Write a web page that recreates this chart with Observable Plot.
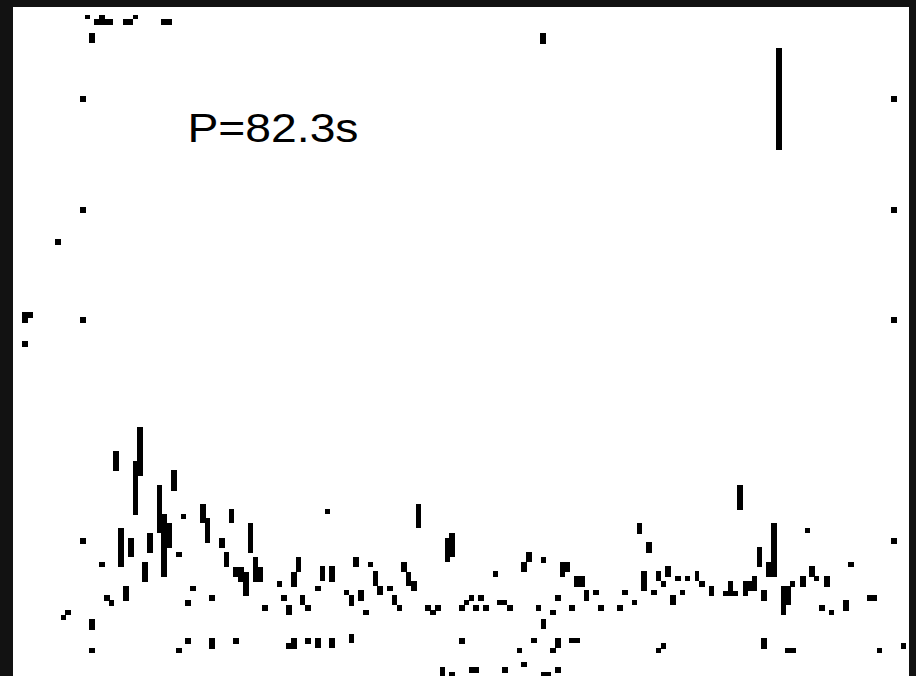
<!DOCTYPE html>
<html>
<head>
<meta charset="utf-8">
<script src="https://cdn.jsdelivr.net/npm/d3@7"></script>
<script src="https://cdn.jsdelivr.net/npm/@observablehq/plot@0.6"></script>
<style>
  html, body { margin: 0; padding: 0; background: #121212; }
  #chart { position: absolute; left: 13px; top: 7px; }
</style>
</head>
<body>
<div id="chart"></div>
<script>
// Power spectrum cells: [freq start, freq end (mHz), power low, power high]
const topCluster = [
  [0.72, 0.77, 65.7, 66.1], [0.81, 1.00, 65.1, 65.7], [0.86, 0.92, 65.7, 66.1],
  [1.10, 1.20, 65.1, 65.7], [1.20, 1.25, 65.7, 66.1], [1.48, 1.59, 65.1, 65.7],
  [0.76, 0.82, 63.3, 64.3], [5.27, 5.33, 63.2, 64.3]
];

const leftScatter = [
  [0.42, 0.48, 43.1, 43.7], [0.09, 0.20, 35.8, 36.4], [0.09, 0.15, 35.3, 35.8],
  [0.09, 0.15, 32.9, 33.5]
];

// Detected period marker
const periodLine = [[7.63, 7.69, 52.6, 62.8]];

const spectrum = [
  [1.24, 1.30, 20.0, 24.9], [1.20, 1.25, 16.1, 21.5], [1.00, 1.06, 20.5, 22.5],
  [1.58, 1.64, 18.5, 20.6], [1.44, 1.49, 14.3, 19.1], [1.48, 1.54, 9.9, 16.2],
  [1.53, 1.59, 12.8, 15.3], [1.68, 1.73, 15.7, 16.2], [1.87, 1.93, 15.3, 17.2],
  [1.92, 1.97, 13.3, 15.8], [2.16, 2.21, 15.3, 16.7], [2.35, 2.40, 12.3, 15.3],
  [1.05, 1.11, 10.9, 14.8], [1.15, 1.21, 11.9, 13.8], [1.34, 1.40, 12.3, 14.3],
  [1.29, 1.35, 9.4, 11.4], [0.86, 0.92, 10.9, 11.4], [1.63, 1.69, 11.9, 12.4],
  [2.06, 2.12, 12.8, 13.8], [2.11, 2.16, 10.9, 12.4], [2.20, 2.31, 9.9, 10.9],
  [2.25, 2.36, 9.4, 10.4], [2.30, 2.36, 8.0, 9.4], [2.40, 2.45, 10.4, 11.9],
  [2.40, 2.50, 9.4, 10.9], [2.83, 2.88, 10.4, 11.9], [2.78, 2.84, 8.9, 10.4],
  [2.64, 2.69, 8.9, 9.5], [1.10, 1.16, 7.5, 9.0], [1.77, 1.83, 8.5, 9.0],
  [1.96, 2.02, 7.5, 8.1], [0.91, 0.97, 7.5, 8.1], [0.96, 1.01, 7.0, 7.6],
  [1.72, 1.78, 7.0, 7.6], [2.49, 2.55, 6.5, 7.1], [2.68, 2.74, 7.5, 8.1],
  [2.73, 2.79, 6.1, 7.1], [0.52, 0.58, 6.1, 6.6], [0.48, 0.53, 5.6, 6.1],
  [0.76, 0.82, 4.6, 5.7],
  [3.12, 3.17, 16.2, 16.7], [4.03, 4.08, 14.8, 17.2], [4.32, 4.37, 11.4, 13.8],
  [4.36, 4.42, 11.9, 14.3], [3.40, 3.46, 10.9, 11.9], [3.55, 3.60, 10.9, 11.4],
  [3.88, 3.94, 10.4, 11.4], [3.93, 3.98, 9.0, 10.4], [3.98, 4.04, 8.5, 9.5],
  [3.07, 3.12, 9.5, 11.0], [3.16, 3.22, 9.4, 11.0], [3.60, 3.65, 9.0, 10.5],
  [3.64, 3.70, 8.1, 9.0], [3.74, 3.80, 8.5, 9.0], [3.02, 3.08, 8.5, 9.0],
  [2.87, 2.92, 7.1, 8.1], [2.92, 2.98, 6.5, 7.1], [3.31, 3.36, 8.1, 8.6],
  [3.36, 3.41, 7.0, 8.1], [3.45, 3.51, 7.5, 8.6], [3.79, 3.84, 7.1, 8.1],
  [3.84, 3.89, 6.5, 7.1], [3.50, 3.56, 6.1, 6.6], [4.12, 4.18, 6.5, 7.1],
  [4.17, 4.23, 6.1, 6.6], [4.22, 4.28, 6.5, 7.1], [4.46, 4.52, 6.5, 7.1],
  [4.51, 4.56, 7.1, 7.6], [4.56, 4.61, 7.5, 8.1], [4.60, 4.66, 6.5, 7.1],
  [4.65, 4.71, 7.5, 8.1], [4.70, 4.76, 6.5, 7.1], [4.84, 4.94, 7.1, 7.6],
  [4.94, 5.00, 6.5, 7.1], [4.80, 4.85, 9.9, 10.5], [5.08, 5.14, 10.4, 11.4],
  [5.13, 5.19, 11.4, 12.4], [5.28, 5.33, 11.3, 11.9], [5.47, 5.57, 10.4, 11.4],
  [5.47, 5.52, 9.9, 10.4], [5.61, 5.72, 8.9, 10.0], [5.42, 5.48, 7.5, 8.1],
  [5.23, 5.28, 6.5, 7.1], [5.37, 5.43, 6.1, 6.6], [5.28, 5.33, 4.7, 5.7],
  [5.56, 5.62, 6.5, 7.1], [5.71, 5.76, 7.5, 8.6], [5.80, 5.86, 8.1, 8.6],
  [5.85, 5.91, 6.5, 7.1],
  [7.24, 7.30, 16.6, 19.1], [6.24, 6.29, 14.2, 15.3], [6.33, 6.39, 12.3, 13.4],
  [7.58, 7.64, 9.9, 15.3], [7.53, 7.64, 9.9, 11.4], [7.44, 7.49, 10.9, 12.9],
  [7.92, 7.97, 14.3, 14.8], [8.35, 8.41, 10.9, 11.4], [6.28, 6.34, 8.5, 10.5],
  [6.43, 6.48, 9.5, 10.5], [6.48, 6.53, 8.9, 9.5], [6.52, 6.58, 9.9, 11.0],
  [6.62, 6.68, 9.5, 10.0], [6.72, 6.77, 9.5, 10.0], [6.82, 6.86, 9.5, 10.5],
  [6.86, 6.92, 8.9, 9.5], [6.96, 7.01, 8.0, 9.0], [7.15, 7.20, 8.5, 9.5],
  [7.10, 7.25, 8.0, 8.5], [7.30, 7.44, 8.5, 9.5], [7.30, 7.35, 8.0, 8.5],
  [7.39, 7.44, 9.5, 10.0], [7.48, 7.54, 7.5, 8.6], [7.68, 7.78, 7.1, 9.0],
  [7.68, 7.73, 6.1, 7.1], [7.77, 7.82, 8.9, 9.5], [7.87, 7.93, 8.9, 10.0],
  [7.96, 8.02, 9.9, 11.0], [8.01, 8.06, 9.5, 10.0], [8.11, 8.17, 8.9, 10.0],
  [6.09, 6.15, 8.1, 8.6], [6.38, 6.44, 8.1, 8.6], [6.67, 6.72, 8.1, 8.6],
  [6.19, 6.24, 7.1, 7.6], [6.57, 6.63, 7.1, 8.1], [6.04, 6.10, 6.5, 7.1],
  [8.06, 8.12, 6.5, 7.1], [8.16, 8.21, 6.1, 6.6], [8.30, 8.36, 6.5, 7.6],
  [8.54, 8.64, 7.5, 8.1]
];

// Low-power floor values
const floorCells = [
  [1.72, 1.78, 3.2, 3.8], [1.96, 2.02, 2.7, 3.8], [2.20, 2.26, 3.2, 3.8],
  [2.73, 2.84, 2.7, 3.3], [2.78, 2.84, 3.2, 3.8], [0.76, 0.82, 2.3, 2.8],
  [1.63, 1.69, 2.3, 2.8], [2.92, 2.98, 3.2, 3.8], [3.02, 3.08, 2.8, 3.8],
  [3.16, 3.22, 2.8, 3.8], [3.36, 3.41, 3.3, 4.2], [4.46, 4.52, 3.2, 3.8],
  [5.04, 5.09, 2.3, 2.8], [5.18, 5.24, 3.3, 3.8], [5.37, 5.43, 2.3, 2.8],
  [5.42, 5.48, 2.8, 3.8], [5.56, 5.67, 3.3, 3.8], [4.27, 4.32, 0.0, 0.9],
  [4.36, 4.42, 0.0, 0.4], [4.56, 4.66, 0.3, 0.9], [4.89, 4.95, 0.3, 0.9],
  [5.08, 5.14, 0.9, 1.4], [5.28, 5.38, 0.0, 0.4], [5.42, 5.48, 0.3, 0.9],
  [7.48, 7.54, 2.7, 3.8], [6.43, 6.48, 2.3, 2.8], [6.48, 6.53, 2.7, 3.3],
  [7.72, 7.83, 2.3, 2.8], [8.64, 8.69, 2.3, 2.8], [8.88, 8.93, 2.7, 3.3]
];

// Tick marks on the left and right frame columns
const tickLevels = [13.5, 35.6, 46.6, 57.7];
const tickColumns = [[0.67, 0.73], [8.78, 8.84]];
const tickHalf = 0.3;

const labelText = "P=82.3s";
const labelPos = {f: 1.74, p: 54.7};

const toCell = ([f1, f2, p1, p2]) => ({f1, f2, p1, p2});
const cells = [...topCluster, ...leftScatter, ...periodLine, ...spectrum, ...floorCells].map(toCell);
const ticks = tickColumns.flatMap(([f1, f2]) =>
  tickLevels.map(v => ({f1, f2, p1: v - tickHalf, p2: v + tickHalf})));

const chart = Plot.plot({
  width: 896,
  height: 669,
  margin: 0,
  style: {background: "#ffffff", overflow: "visible"},
  x: {domain: [0, 8.96], axis: null},
  y: {domain: [0, 66.9], axis: null},
  marks: [
    Plot.rect(cells, {x1: "f1", x2: "f2", y1: "p1", y2: "p2", fill: "#000", shapeRendering: "crispEdges"}),
    Plot.rect(ticks, {x1: "f1", x2: "f2", y1: "p1", y2: "p2", fill: "#000", shapeRendering: "crispEdges"}),
    Plot.text([labelPos], {
      x: "f", y: "p", text: () => labelText,
      textAnchor: "start", lineAnchor: "middle",
      fontSize: 40, fontFamily: "Liberation Sans, Arial, sans-serif", fill: "#000"
    })
  ]
});

document.getElementById("chart").appendChild(chart);
d3.select(chart).selectAll("text")
  .attr("textLength", 171)
  .attr("lengthAdjust", "spacingAndGlyphs");
</script>
</body>
</html>
